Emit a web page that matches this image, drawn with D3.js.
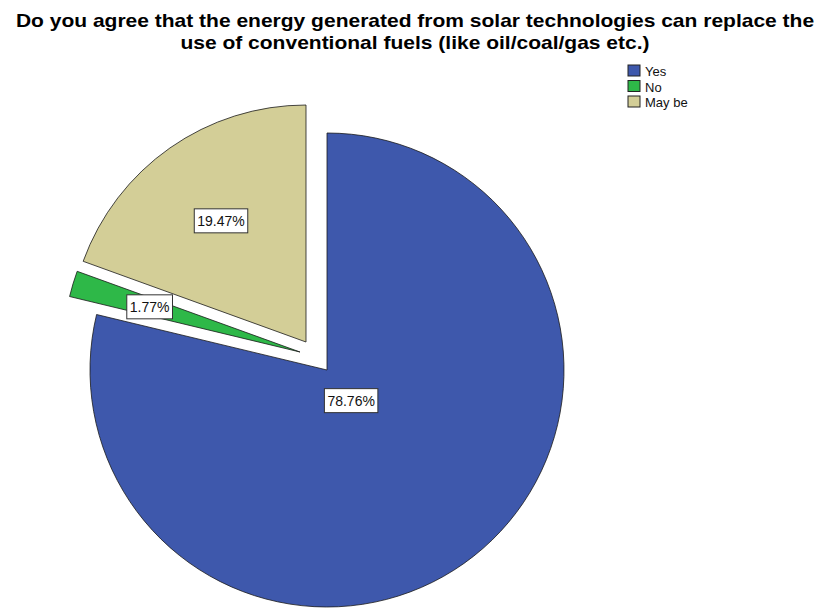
<!DOCTYPE html>
<html>
<head>
<meta charset="utf-8">
<script src="https://cdn.jsdelivr.net/npm/d3@7/dist/d3.min.js"></script>
<style>
  html, body { margin: 0; padding: 0; background: #fff; }
  svg { display: block; font-family: "Liberation Sans", Arial, sans-serif; }
</style>
</head>
<body>
<svg id="chart" width="825" height="608"></svg>
<script>
// ---- data ----
const categories = ["Yes", "No", "May be"];
const percentages = [78.76, 1.77, 19.47];
const titleLines = [
  "Do you agree that the energy generated from solar technologies can replace the",
  "use of conventional fuels (like oil/coal/gas etc.)"
];

// ---- styles / layout ----
const colors = ["#3E58AC", "#2EB848", "#D3CE97"];
const explodeOffsets = [[0, 0], [-27, -18], [-21, -28]];
const labelRadii = [39, 157, 148];
const cx = 327, cy = 370, radius = 237;

const svg = d3.select("#chart");

// title: measured at 21px, drawn at 19px stretched to the same width
const titleTexts = svg.append("g").selectAll("text").data(titleLines).join("text")
  .attr("x", 415)
  .attr("y", (d, i) => 27 + i * 21.5)
  .attr("text-anchor", "middle")
  .attr("font-size", 21)
  .attr("font-weight", "bold")
  .attr("fill", "#000")
  .text(d => d);
titleTexts.each(function() {
  const w = this.getComputedTextLength();
  d3.select(this)
    .attr("font-size", 19)
    .attr("textLength", w)
    .attr("lengthAdjust", "spacingAndGlyphs");
});

const data = categories.map((c, i) => ({ cat: c, value: percentages[i], i }));
const pie = d3.pie().value(d => d.value).sort(null);
const arcs = pie(data);
const arc = d3.arc().innerRadius(0).outerRadius(radius);

const g = svg.append("g").attr("transform", `translate(${cx},${cy})`);

const slices = g.selectAll("g.slice").data(arcs).join("g")
  .attr("class", "slice")
  .attr("transform", d => `translate(${explodeOffsets[d.data.i][0]},${explodeOffsets[d.data.i][1]})`);

slices.append("path")
  .attr("d", arc)
  .attr("fill", d => colors[d.data.i])
  .attr("stroke", "#1a1a1a")
  .attr("stroke-width", 0.8)
  .attr("stroke-linejoin", "miter");

// labels
slices.each(function(d) {
  const sel = d3.select(this);
  const a = (d.startAngle + d.endAngle) / 2;
  const r = labelRadii[d.data.i];
  const x = Math.sin(a) * r, y = -Math.cos(a) * r;
  const lg = sel.append("g").attr("transform", `translate(${x},${y})`);
  const t = lg.append("text")
    .attr("text-anchor", "middle")
    .attr("dy", "0.36em")
    .attr("font-size", 14)
    .attr("fill", "#111")
    .text(d.data.value.toFixed(2) + "%");
  const w = t.node().getComputedTextLength();
  lg.insert("rect", "text")
    .attr("x", -w / 2 - 3)
    .attr("y", -12)
    .attr("width", w + 6)
    .attr("height", 24)
    .attr("fill", "#fff")
    .attr("stroke", "#333")
    .attr("stroke-width", 1);
});

// legend
const legend = svg.append("g").attr("transform", "translate(628,65)");
const items = legend.selectAll("g").data(categories).join("g")
  .attr("transform", (d, i) => `translate(0,${i * 15.5})`);
items.append("rect")
  .attr("width", 12).attr("height", 11)
  .attr("fill", (d, i) => colors[i])
  .attr("stroke", "#222").attr("stroke-width", 1);
items.append("text")
  .attr("x", 17).attr("y", 11)
  .attr("font-size", 13)
  .attr("fill", "#111")
  .text(d => d);
</script>
</body>
</html>
